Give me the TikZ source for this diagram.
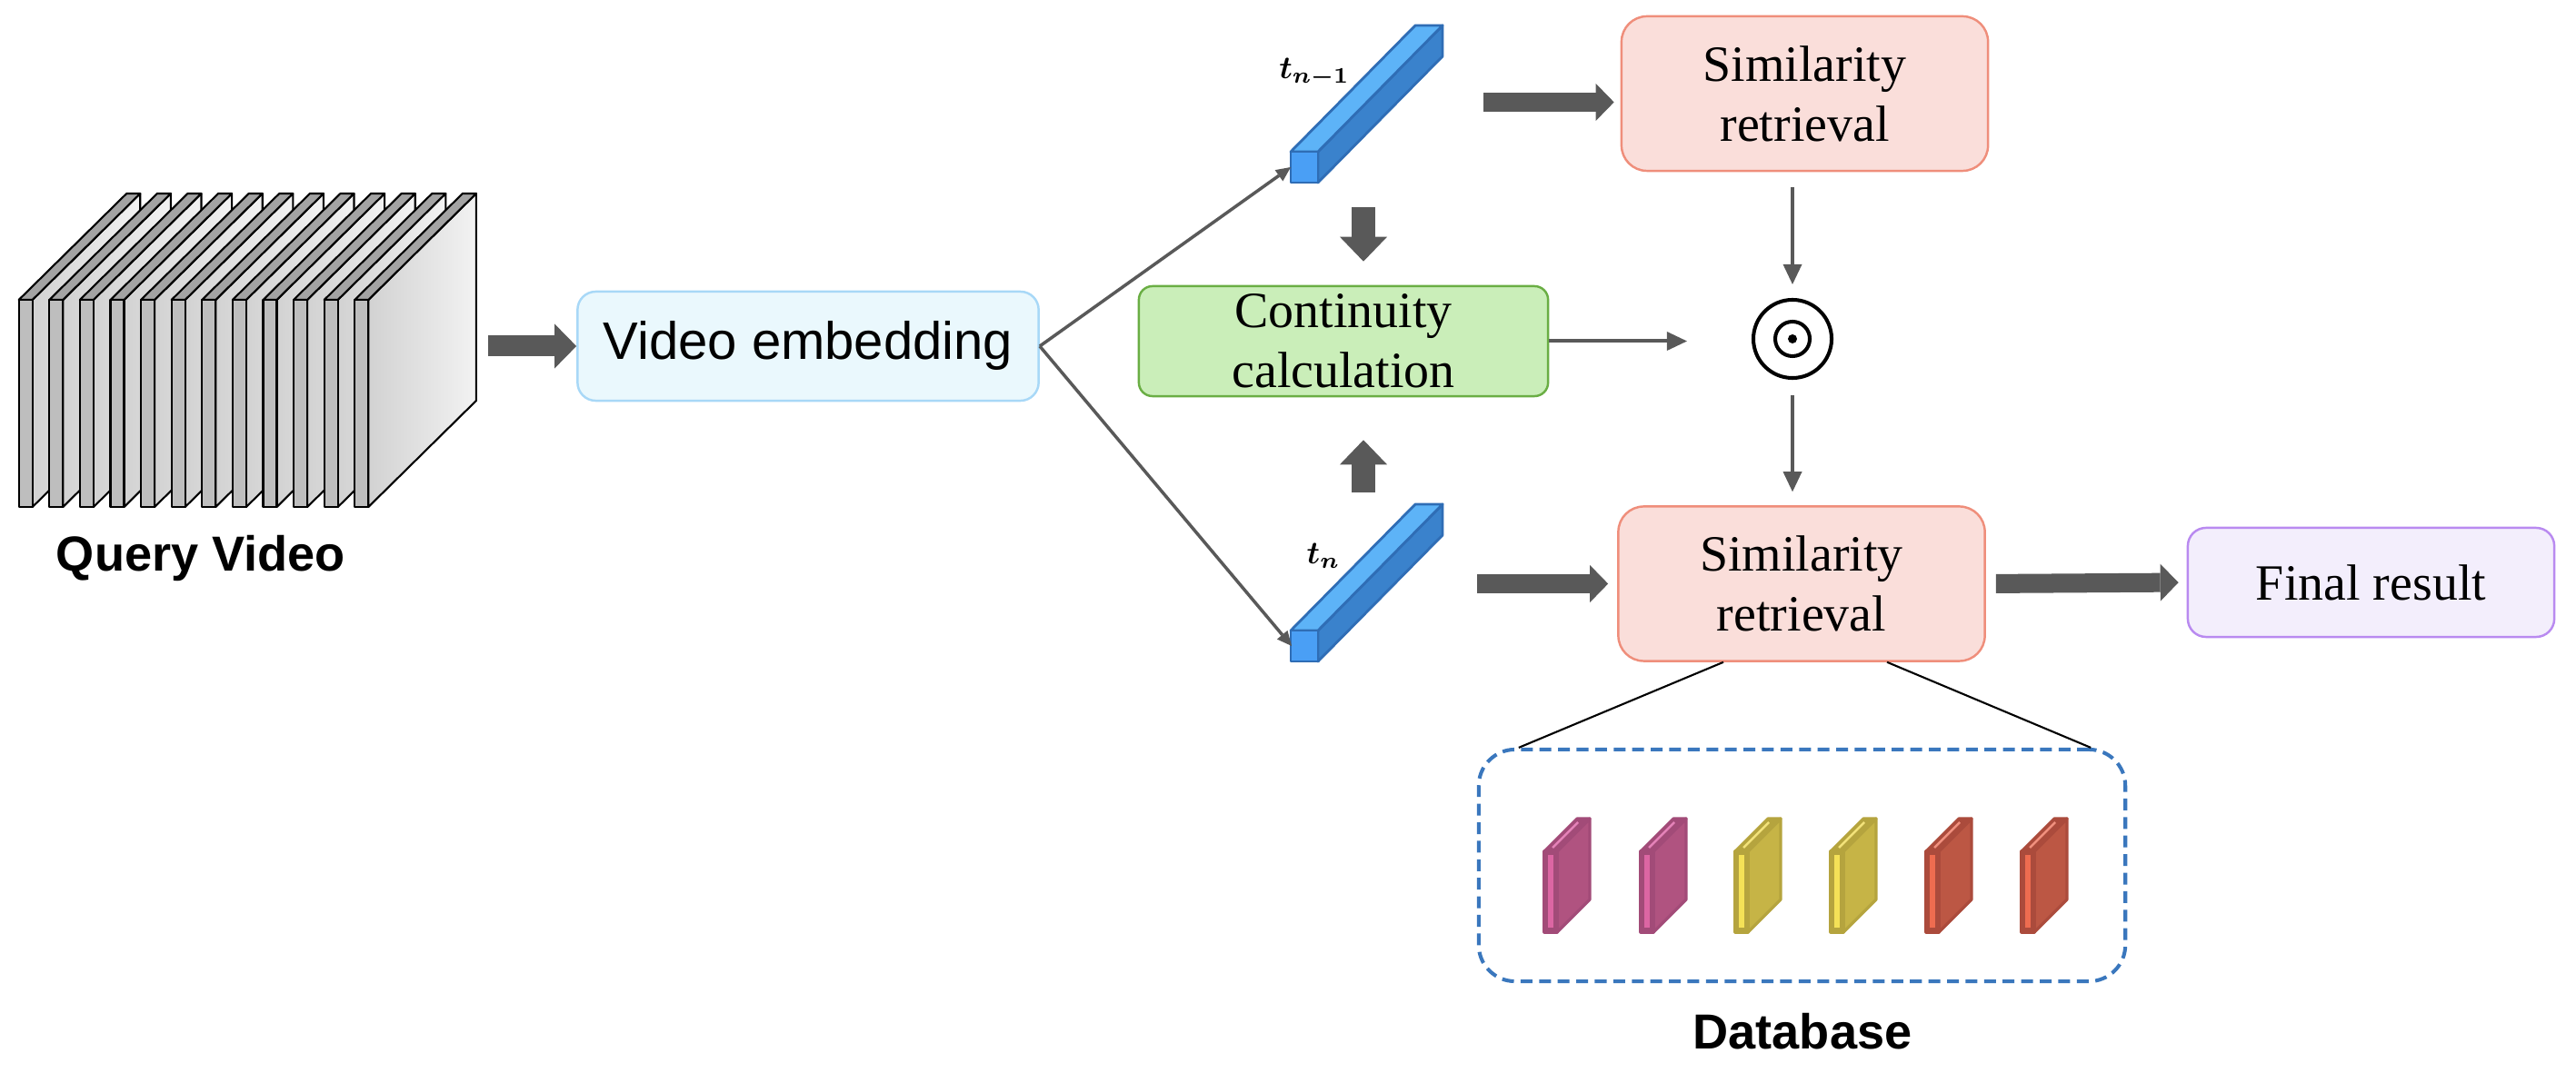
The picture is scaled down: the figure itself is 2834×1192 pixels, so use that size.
\documentclass[tikz,border=0pt]{standalone}
\usepackage{bm}
\usepackage{fontspec}
\setmainfont{Liberation Serif}
\newfontfamily\sansf{Liberation Sans}
\usetikzlibrary{arrows.meta}

\definecolor{arrgray}{HTML}{595959}
\definecolor{qfront}{HTML}{BEBEBE}
\definecolor{qtop}{HTML}{A3A3A3}
\definecolor{qlight}{HTML}{D2D2D2}
\definecolor{qwhite}{HTML}{F2F2F2}
\definecolor{embfill}{HTML}{EAF8FD}
\definecolor{embline}{HTML}{A8D8F7}
\definecolor{contfill}{HTML}{CAEEB9}
\definecolor{contline}{HTML}{6AAE44}
\definecolor{simfill}{HTML}{FADEDA}
\definecolor{simline}{HTML}{EF8E7B}
\definecolor{finfill}{HTML}{F3EEFC}
\definecolor{finline}{HTML}{B98AF0}
\definecolor{dbline}{HTML}{3A77BD}
\definecolor{bfront}{HTML}{4A9FF5}
\definecolor{btop}{HTML}{5DB3F7}
\definecolor{bside}{HTML}{3A82CC}
\definecolor{bout}{HTML}{2F6DB5}
\definecolor{mgout}{HTML}{A24B78}
\definecolor{mgside}{HTML}{B05380}
\definecolor{mgin}{HTML}{DC66A3}
\definecolor{mghl}{HTML}{E482B8}
\definecolor{ylout}{HTML}{B5A43E}
\definecolor{ylside}{HTML}{C6B446}
\definecolor{ylin}{HTML}{F4E157}
\definecolor{ylhl}{HTML}{F2E27A}
\definecolor{rdout}{HTML}{AB4B3C}
\definecolor{rdside}{HTML}{BC5744}
\definecolor{rdin}{HTML}{EE6C50}
\definecolor{rdhl}{HTML}{F0907E}

\begin{document}
\begin{tikzpicture}[x=0.01cm,y=-0.01cm,line join=round,
  box/.style={draw,rounded corners=0.2cm,line width=0.7pt,inner sep=0pt,align=center,
    font=\fontsize{15.9}{18.8}\selectfont},
  bold/.style={font=\sansf\bfseries\fontsize{15.4}{18}\selectfont},
  qarr/.style={arrgray,line width=0.23cm,-{Triangle[length=0.24cm,width=0.49cm,line width=0pt]}},
  harr/.style={arrgray,line width=0.21cm,-{Triangle[length=0.2cm,width=0.41cm,line width=0pt]}},
  varr/.style={arrgray,line width=0.26cm,-{Triangle[length=0.27cm,width=0.52cm,line width=0pt]}},
  thinarr/.style={arrgray,line width=0.04cm,-{Triangle[length=0.22cm,width=0.21cm,line width=0pt]}},
  fanarr/.style={arrgray,line width=0.035cm,-{Triangle[length=0.16cm,width=0.15cm,line width=0pt]}}]

\useasboundingbox (0,0) rectangle (2834,1192);

% query video frames
\foreach \i in {0,...,11}{
\pgfmathsetmacro\qx{20.7+33.6*\i}
\draw[line width=0.6pt,left color=qlight,right color=qwhite] (\qx+15,330) -- ++(118.6,-117) -- ++(0,228) -- ++(-118.6,117) -- cycle;
\draw[line width=0.6pt,fill=qtop] (\qx,330) -- ++(118.6,-117) -- ++(15,0) -- ++(-118.6,117) -- cycle;
\draw[line width=0.6pt,fill=qfront] (\qx,330) rectangle ++(15,228);
}
\node[bold] (qlabel) at (221,615) {Query Video};

\node[box,fill=embfill,draw=embline,font=\sansf\fontsize{16.5}{20}\selectfont,
  minimum width=5.07cm,minimum height=1.2cm] (embed) at (889,381) {Video embedding};

\coordinate (qout) at (537,381);
\draw[qarr] (qout) -- (embed.west);

% feature bars
\foreach \by in {167,694}{
\draw[bout,line width=0.8pt,fill=bside] (1450,\by) -- ++(137,-139) -- ++(0,34) -- ++(-137,139) -- cycle;
\draw[bout,line width=0.8pt,fill=btop] (1420,\by) -- ++(137,-139) -- ++(30,0) -- ++(-137,139) -- cycle;
\draw[bout,line width=0.8pt,fill=bfront] (1420,\by) rectangle ++(30,34);
}
\coordinate (tprev) at (1420,184);
\coordinate (tcur) at (1421,711);
\node (lprev) at (1446,80) {$\bm{t_{n-1}}$};
\node (lcur) at (1456,612) {$\bm{t_n}$};

\draw[fanarr] (embed.east) -- (tprev);
\draw[fanarr] (embed.east) -- (tcur);

\node[box,fill=contfill,draw=contline,rounded corners=0.15cm,
  minimum width=4.5cm,minimum height=1.21cm] (cont) at (1478,375.5) {Continuity\\calculation};

\node[box,fill=simfill,draw=simline,rounded corners=0.28cm,
  minimum width=4.03cm,minimum height=1.7cm] (simtop) at (1985.5,103) {Similarity\\retrieval};
\node[box,fill=simfill,draw=simline,rounded corners=0.28cm,
  minimum width=4.03cm,minimum height=1.7cm] (simbot) at (1982,642.5) {Similarity\\retrieval};
\node[box,fill=finfill,draw=finline,
  minimum width=4.03cm,minimum height=1.2cm] (final) at (2608.5,641) {Final result};

\node[circle,draw,line width=1.15pt,minimum size=0.86cm,inner sep=0pt] (odot) at (1972,373) {};
\draw[line width=1.15pt] (odot.center) circle (0.19cm);
\fill (odot.center) circle (0.05cm);

\coordinate (downA) at (1500,228);
\draw[varr,shorten >=0.26cm] (downA) -- (downA |- cont.north);
\coordinate (upA) at (1500,542);
\draw[varr,shorten >=0.47cm] (upA) -- (upA |- cont.south);

\coordinate (prevout) at (1632,112.5);
\draw[harr,shorten >=0.07cm] (prevout) -- (prevout -| simtop.west);
\coordinate (curout) at (1625,642.5);
\draw[harr,shorten >=0.1cm] (curout) -- (curout -| simbot.west);
\draw[harr,shorten <=0.11cm,shorten >=0.09cm] (simbot.east) -- (final.west);

\draw[thinarr,shorten <=0.17cm,shorten >=0.15cm] (odot |- simtop.south) -- (odot.north);
\draw[thinarr,shorten >=0.71cm] (cont.east) -- (cont.east -| odot.west);
\draw[thinarr,shorten <=0.17cm,shorten >=0.15cm] (odot.south) -- (odot |- simbot.north);

% database
\node[draw=dbline,dash pattern=on 3.7pt off 2.1pt,line width=1.15pt,rounded corners=0.4cm,
  minimum width=7.11cm,minimum height=2.55cm] (db) at (1982.5,952.5) {};
\node[bold] (dblabel) at (1983,1135) {Database};

\draw[line width=0.6pt] ([xshift=-0.86cm]simbot.south) -- ([xshift=0.46cm]db.north west);
\draw[line width=0.6pt] ([xshift=0.94cm]simbot.south) -- ([xshift=-0.4cm]db.north east);

\foreach \sx/\cl in {1699/mg,1805/mg,1909/yl,2014/yl,2119/rd,2224/rd}{
\filldraw[fill=\cl side,draw=\cl out,line width=0.9pt] (\sx+14,937) -- ++(36,-36) -- ++(0,89) -- ++(-36,36) -- cycle;
\filldraw[fill=\cl out,draw=\cl out,line width=0.9pt] (\sx,937) -- ++(36,-36) -- ++(14,0) -- ++(-36,36) -- cycle;
\filldraw[fill=\cl out,draw=\cl out,line width=0.9pt] (\sx,937) rectangle ++(14,89);
\fill[\cl in] (\sx+4,941) rectangle (\sx+10,1021);
\draw[\cl hl,line width=0.7pt] (\sx+9,933) -- ++(28,-28);
}
\end{tikzpicture}
\end{document}
